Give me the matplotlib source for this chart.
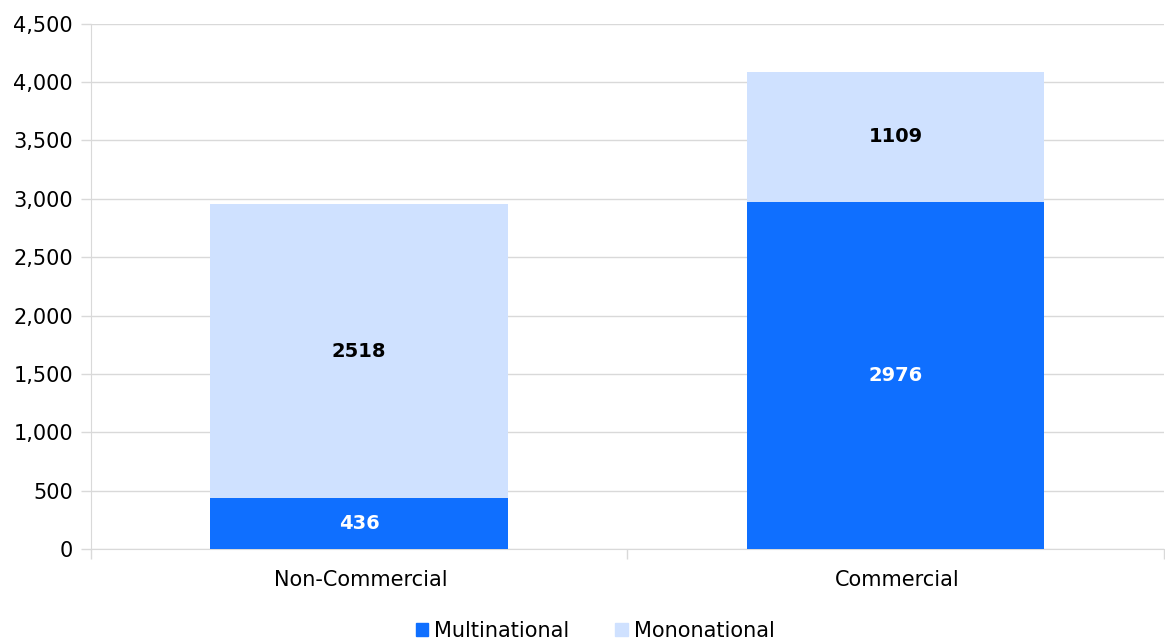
import numpy as np
import matplotlib.pyplot as plt
from matplotlib.patches import Patch

# Data
categories = ["Non-Commercial", "Commercial"]
multinational = [436, 2976]
mononational = [2518, 1109]

dark = "#0F6FFF"
light = "#CFE1FF"
grid_col = "#D9D9D9"

plt.rcParams['font.family'] = ['DejaVu Sans']

fig = plt.figure(figsize=(11.65, 6.42), dpi=100)
ax = fig.add_axes([0.078, 0.145, 0.921, 0.818])

x = np.arange(len(categories))
w = 0.555
b1 = ax.bar(x, multinational, width=w, color=dark, zorder=3)
b2 = ax.bar(x, mononational, width=w, bottom=multinational, color=light, zorder=3)

for i in range(len(categories)):
    ax.text(x[i], multinational[i] / 2, str(multinational[i]), ha='center', va='center',
            fontsize=14, fontweight='bold', color='white', zorder=4)
    ax.text(x[i], multinational[i] + mononational[i] / 2, str(mononational[i]), ha='center',
            va='center', fontsize=14, fontweight='bold', color='black', zorder=4)

ax.set_xlim(-0.5, 1.5)
ax.set_ylim(0, 4500)
ax.set_yticks(np.arange(0, 4501, 500))
ax.set_yticklabels([f"{v:,}" for v in range(0, 4501, 500)], fontsize=15)
ax.yaxis.grid(True, color=grid_col, linewidth=1, zorder=0)

ax.set_xticks([-0.5, 0.5, 1.5])
ax.set_xticklabels([])
ax.set_xticks(x + 0.003, minor=True)
ax.set_xticklabels(categories, minor=True, fontsize=15)
ax.tick_params(axis='x', which='minor', length=0, pad=15)
ax.tick_params(axis='x', which='major', length=7, color=grid_col, width=1)
ax.tick_params(axis='y', length=7, color=grid_col, width=1, pad=6)

for s in ['top', 'right']:
    ax.spines[s].set_visible(False)
ax.spines['left'].set_color(grid_col)
ax.spines['bottom'].set_color(grid_col)

handles = [Patch(color=dark, label="Multinational"), Patch(color=light, label="Mononational")]
fig.legend(handles=handles, loc='lower center', ncol=2, frameon=False, fontsize=15,
           bbox_to_anchor=(0.511, -0.028), handlelength=0.6, handleheight=0.6,
           handletextpad=0.3, columnspacing=2.2)

fig.savefig("out.png", dpi=100)
